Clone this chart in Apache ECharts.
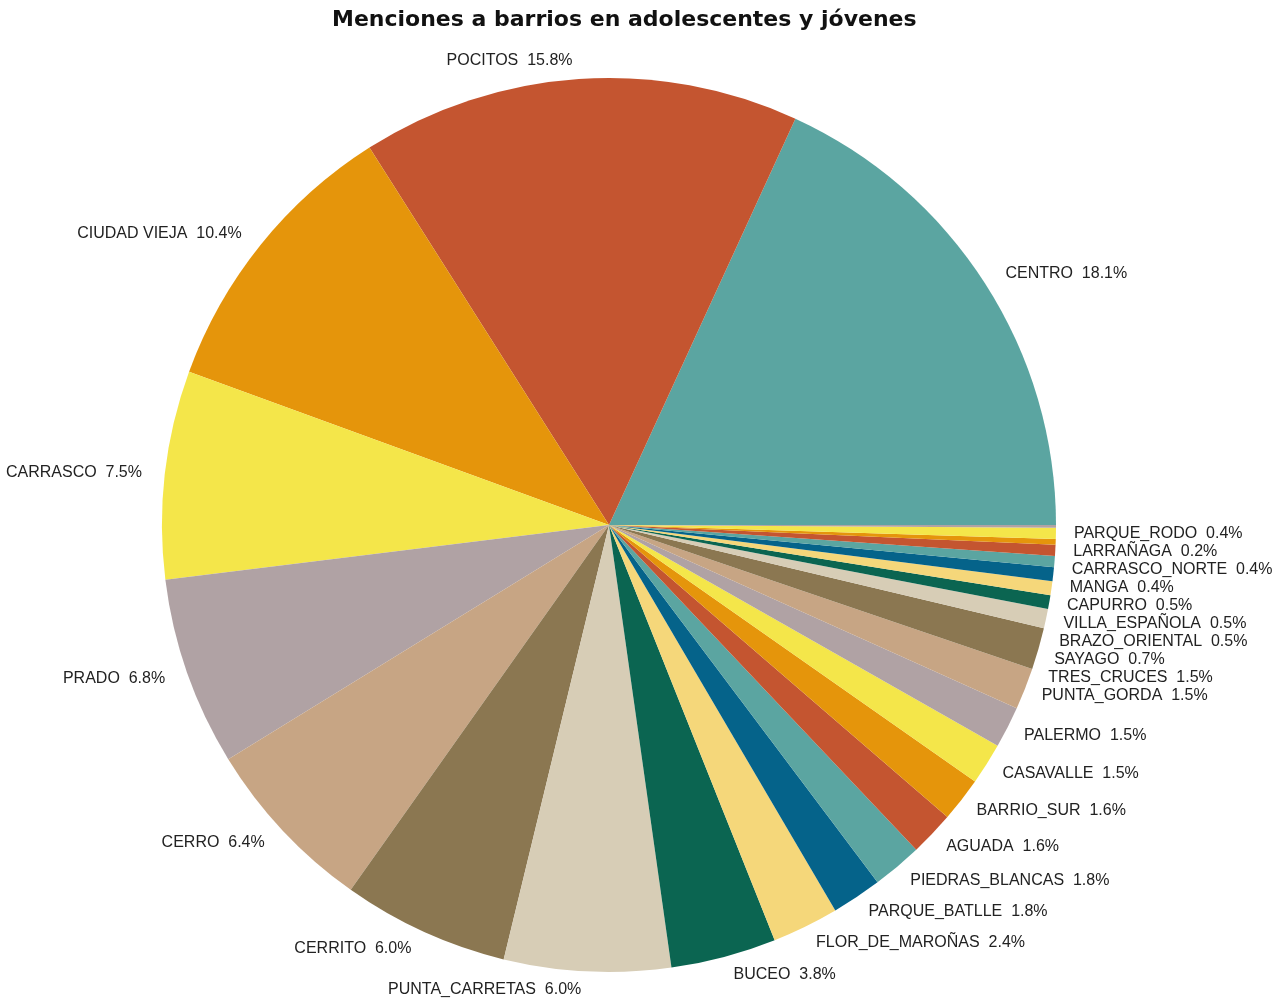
<!DOCTYPE html>
<html>
<head>
<meta charset="utf-8">
<script src="https://cdn.jsdelivr.net/npm/echarts@6/dist/echarts.min.js"></script>
<style>
html,body{margin:0;padding:0;background:#fff;}
#chart{width:1283px;height:1005px;}
</style>
</head>
<body>
<div id="chart"></div>
<script>
const titleText = 'Menciones a barrios en adolescentes y jóvenes';
const barrios = ['CENTRO','POCITOS','CIUDAD VIEJA','CARRASCO','PRADO','CERRO','CERRITO','PUNTA_CARRETAS','BUCEO','FLOR_DE_MAROÑAS','PARQUE_BATLLE','PIEDRAS_BLANCAS','AGUADA','BARRIO_SUR','CASAVALLE','PALERMO','PUNTA_GORDA','TRES_CRUCES','SAYAGO','BRAZO_ORIENTAL','VILLA_ESPAÑOLA','CAPURRO','MANGA','CARRASCO_NORTE','LARRAÑAGA','PARQUE_RODO',''];
const porcentajes = [18.1,15.8,10.4,7.5,6.8,6.4,6.0,6.0,3.8,2.4,1.8,1.8,1.6,1.6,1.5,1.5,1.5,1.5,0.7,0.5,0.5,0.5,0.4,0.4,0.2,0.4,0.1];
const palette = ['#5BA5A1','#C45530','#E5950B','#F4E64A','#B0A2A4','#C7A584','#8B7751','#D7CDB6','#0B6551','#F5D77A','#05638A'];

const data = barrios.map((b, i) => ({
  name: b,
  value: porcentajes[i],
  label: { show: b !== '' }
}));

const chart = echarts.init(document.getElementById('chart'), null, {renderer: 'canvas'});
chart.setOption({
  animation: false,
  color: palette,
  title: {
    text: titleText,
    left: 327,
    top: 4,
    textStyle: { fontFamily: 'DejaVu Sans', fontWeight: 'bold', fontSize: 22, color: '#111' }
  },
  series: [{
    type: 'pie',
    center: [609, 525],
    radius: [0, 447],
    startAngle: 0,
    clockwise: false,
    avoidLabelOverlap: true,
    minShowLabelAngle: 0,
    itemStyle: { borderWidth: 0 },
    label: {
      show: true,
      position: 'outside',
      overflow: 'none',
      formatter: p => p.name + '  ' + p.value.toFixed(1) + '%',
      fontFamily: 'Liberation Sans, Arial, sans-serif',
      fontSize: 16,
      color: '#222'
    },
    labelLine: { show: false, length: 18, length2: 0 },
    data: data
  }]
});
</script>
</body>
</html>
